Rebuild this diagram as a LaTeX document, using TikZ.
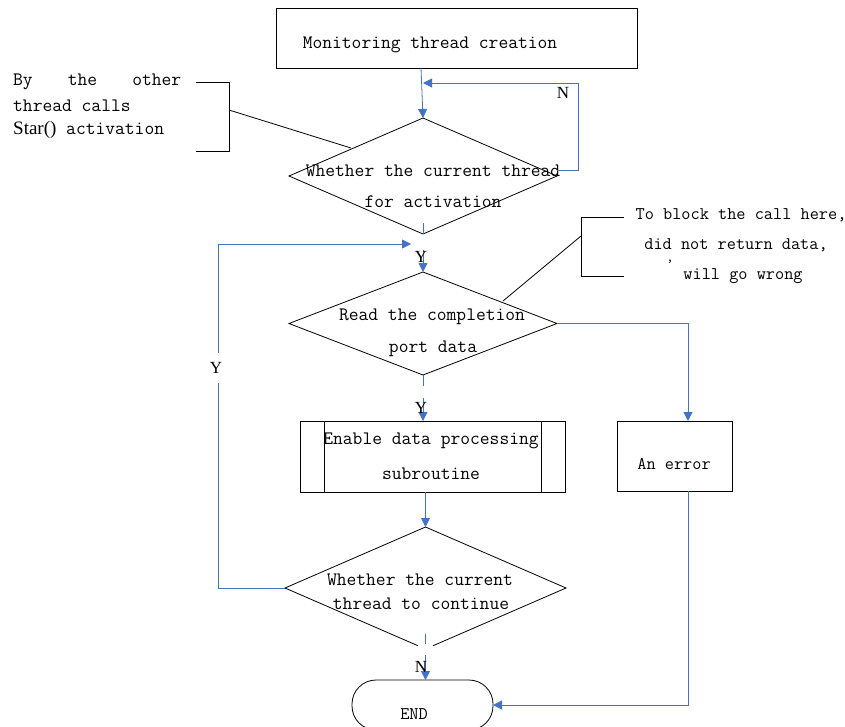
\documentclass[tikz,border=0pt]{standalone}
\usepackage{fontspec}
\newfontfamily\timesf{Liberation Serif}
\usetikzlibrary{shapes.geometric,arrows.meta,calc}
\definecolor{flowblue}{RGB}{68,114,196}
\begin{document}
\begin{tikzpicture}[x=1pt,y=-1pt,
  box/.style={draw=black,line width=0.8pt,inner sep=0pt,outer sep=0pt},
  dia/.style={draw=black,line width=0.8pt,diamond,inner sep=0pt,outer sep=0pt},
  txt/.style={font=\fontsize{19}{22}\selectfont\ttfamily,inner sep=0pt},
  smalltxt/.style={font=\fontsize{17.8}{21}\selectfont\ttfamily,inner sep=0pt},
  lbl/.style={font=\fontsize{17}{20}\selectfont\timesf,inner sep=1pt},
  flow/.style={draw=flowblue,line width=0.8pt,-{Triangle[length=9pt,width=9pt]}},
  flowline/.style={draw=flowblue,line width=0.8pt},
  note/.style={draw=black,line width=0.8pt}]
\useasboundingbox (0,0) rectangle (845,726);

% shapes
\node[box,minimum width=361pt,minimum height=60pt] (top) at (456.5,38) {};
\node[dia,minimum width=268pt,minimum height=116pt] (d1) at (423,176) {};
\node[dia,minimum width=268pt,minimum height=103pt] (d2) at (423,323.5) {};
\node[box,minimum width=265pt,minimum height=71pt] (sub) at (432.5,456.5) {};
\draw[note] ([xshift=24pt]sub.north west) -- ([xshift=24pt]sub.south west);
\draw[note] ([xshift=-24pt]sub.north east) -- ([xshift=-24pt]sub.south east);
\node[box,minimum width=115pt,minimum height=70pt] (err) at (674.5,456) {};
\node[dia,minimum width=281pt,minimum height=122pt] (d3) at (425.5,588) {};
\fill[white] (418,644) rectangle (433,652);
\node[draw=black,line width=0.8pt,rounded corners=24pt,minimum width=141pt,minimum height=50pt,inner sep=0pt,outer sep=0pt] (endn) at (422.5,705) {};

% texts
\node[txt] (ttop) at (430,45) {Monitoring thread creation};
\node[txt] (td1a) at (433,171) {Whether the current thread};
\node[txt] (td1b) at (433,202) {for activation};
\node[txt] (td2a) at (432,317) {Read the completion};
\node[txt] (td2b) at (433,349) {port data};
\node[txt] (tsuba) at (431,441) {Enable data processing};
\node[txt] (tsubb) at (431,474) {subroutine};
\node[smalltxt] (terr) at (674,464) {An error};
\node[txt] (td3a) at (420,580) {Whether the current};
\node[txt] (td3b) at (421,604) {thread to continue};
\node[smalltxt] (tend) at (414,714) {END};

% annotation 1
\node[txt,anchor=west] (a1a) at (13,82) {\makebox[168pt][s]{By\hfill the\hfill other}};
\node[txt,anchor=west] (a1b) at (13,106) {thread calls};
\node[txt,anchor=west] (a1c) at (13,130) {{\timesf\fontsize{19}{22}\selectfont Star()} activation};
\draw[note] (196,82) -- (229,82) -- (229,151) -- (196,151);
\draw[note] (229,110) -- (351,148);

% annotation 2
\node[smalltxt] (a2a) at (741,215) {To block the call here,};
\node[smalltxt] (a2b) at (736,245) {did not return data,};
\node[font=\fontsize{14}{14}\selectfont\ttfamily,inner sep=0pt] (a2c) at (670,262) {,};
\node[smalltxt] (a2d) at (743,276) {will go wrong};
\draw[note] (624,217) -- (581,217) -- (581,276) -- (624,276);
\draw[note] (581,236) -- (503,301);

% connectors
\coordinate (t1) at (421,68);
\draw[flow] (t1) -- (d1.north);
\coordinate (m1) at (423,83);
\draw[flow] ($(d1.east)+(0,-6)$) -- (578,170) -- (578,83) -- (m1);
\node[lbl] (ln1) at (563,93) {N};

\draw[flowline] ($(d1.south)+(0,-11)$) -- (d1.south);
\coordinate (y1s) at (423,250);
\draw[flow] (y1s) -- (d2.north);
\node[lbl] (ly1) at (421,257) {Y};

\coordinate (j1) at (411,244);
\draw[flow] (d3.west) -- (218,588) -- (218,244) -- (j1);
\node[lbl,fill=white,minimum height=30pt] (ly2) at (216,368) {Y};

\draw[flowline] (d2.south) -- ++(0,11);
\coordinate (y2s) at (423,398);
\draw[flow] (y2s) -- (y2s |- sub.north);
\node[lbl] (ly3) at (421,408) {Y};

\draw[flow] (d2.east) -| ($(err.north)+(13.5,0)$);
\draw[flow] ($(err.south)+(13.5,0)$) |- (endn.east);

\draw[flow] (sub.south -| d3.north) -- (d3.north);

\draw[flowline] ($(d3.south)+(0,-15)$) -- ++(0,10);
\coordinate (n2s) at (425.5,655);
\draw[flow] (n2s) -- (n2s |- endn.north);
\node[lbl] (ln2) at (421,667) {N};
\end{tikzpicture}
\end{document}
